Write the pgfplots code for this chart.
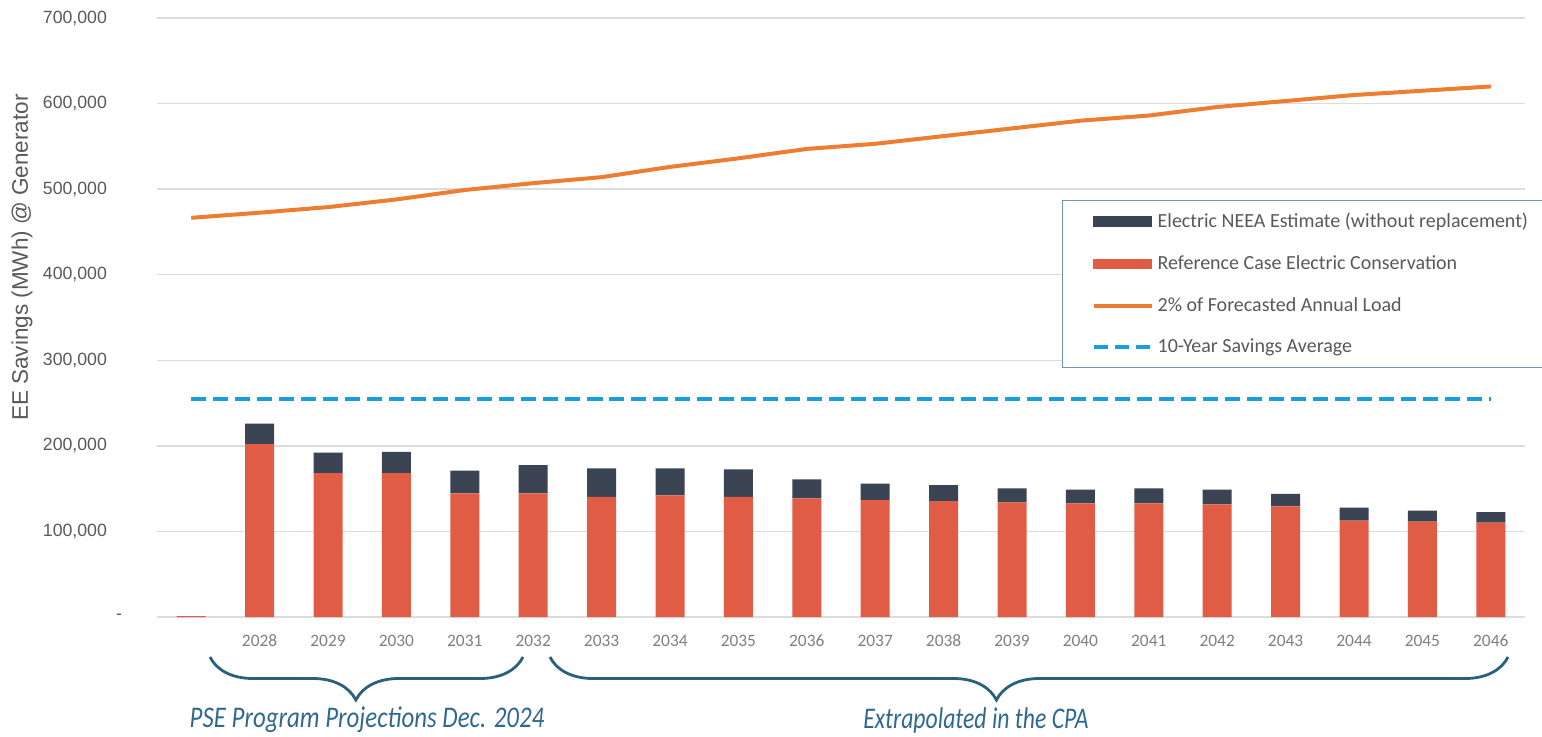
\documentclass[border=0pt]{standalone}
\usepackage{fontspec}
\setmainfont{Carlito}
\newfontfamily\arialf{Liberation Sans}
\usepackage{graphicx}
\usepackage{pgfplots}
\usepackage{pgfplotstable}
\pgfplotsset{compat=1.18}
\usetikzlibrary{decorations.pathreplacing}
\definecolor{darkc}{HTML}{3A4452}
\definecolor{refc}{HTML}{E05C45}
\definecolor{loadc}{HTML}{ED7D31}
\definecolor{avgc}{HTML}{16A0DB}
\definecolor{gridc}{HTML}{DCDCDC}
\definecolor{textc}{HTML}{595959}
\definecolor{yearc}{HTML}{7F7F7F}
\definecolor{bracec}{HTML}{2B5F7E}
\definecolor{notec}{HTML}{2F6890}
\definecolor{legc}{HTML}{7096B2}

\pgfplotstableread{
x ref neea load avg
0 1000 0 466500 255000
1 202000 24000 472500 255000
2 168000 24000 479000 255000
3 168000 25000 488000 255000
4 144500 26500 499000 255000
5 144500 33000 507000 255000
6 140500 33200 514000 255000
7 142000 31700 526000 255000
8 140500 32000 536000 255000
9 138600 22200 547000 255000
10 136700 19300 553000 255000
11 135500 18500 562000 255000
12 134000 16300 571000 255000
13 132800 16200 580000 255000
14 132800 17500 586000 255000
15 131600 17400 596000 255000
16 129300 14700 603000 255000
17 112500 15200 610000 255000
18 111400 12800 615000 255000
19 110200 12500 620000 255000
}\datatable

\begin{document}
\begin{tikzpicture}
\useasboundingbox (0,0) rectangle (771pt,368pt);
\begin{axis}[
  at={(78.5pt,59.5pt)}, anchor=south west,
  scale only axis, width=684pt, height=299.5pt,
  xmin=-0.5, xmax=19.5, ymin=0, ymax=700000,
  ybar stacked, bar width=14.5pt,
  axis line style={draw=none},
  tick style={draw=none},
  ymajorgrids, grid style={line width=0.75pt, color=gridc},
  scaled y ticks=false,
  ytick={0,100000,200000,300000,400000,500000,600000,700000},
  yticklabels={{-\hspace*{-7.5pt}},{100,000},{200,000},{300,000},{400,000},{500,000},{600,000},{700,000}},
  yticklabel style={font=\arialf\fontsize{8.85}{10}\selectfont, text=textc, anchor=east, xshift=-21.5pt},
  xtick={1,...,19},
  xticklabels={2028,2029,2030,2031,2032,2033,2034,2035,2036,2037,2038,2039,2040,2041,2042,2043,2044,2045,2046},
  xticklabel style={font=\fontsize{8.7}{10}\selectfont, text=yearc, anchor=center, yshift=-12pt},
  ylabel={EE Savings (MWh) @ Generator},
  ylabel style={at={(rel axis cs:-0.0987,0.6)}, anchor=center, font=\arialf\fontsize{11.25}{13}\selectfont, text=textc},
  legend style={at={(rel axis cs:0.6616,0.696)}, anchor=north west, draw=legc, line width=0.6pt,
    font=\fontsize{10}{12}\selectfont, text=textc, inner xsep=14.5pt, inner ysep=4pt, row sep=8.5pt},
  legend cell align=left,
]
\addlegendimage{legend image code/.code={\fill[darkc] (0pt,-2.3pt) rectangle (29pt,2.3pt);}}
\addlegendentry{\makebox[200pt][l]{Electric NEEA Estimate (without replacement)}}
\addlegendimage{legend image code/.code={\fill[refc] (0pt,-2.3pt) rectangle (29pt,2.3pt);}}
\addlegendentry{\makebox[200pt][l]{Reference Case Electric Conservation}}
\addlegendimage{legend image code/.code={\draw[loadc, line width=2pt] (0pt,0pt) -- (29pt,0pt);}}
\addlegendentry{\makebox[200pt][l]{2\% of Forecasted Annual Load}}
\addlegendimage{legend image code/.code={\draw[avgc, line width=2pt, dash pattern=on 7pt off 3.5pt] (0pt,0pt) -- (29pt,0pt);}}
\addlegendentry{\makebox[200pt][l]{10-Year Savings Average}}

\addplot[forget plot, fill=refc, draw=none] table[x=x, y=ref] {\datatable};
\addplot[forget plot, fill=darkc, draw=none] table[x=x, y=neea] {\datatable};
\addplot[forget plot, stack plots=false, sharp plot, no markers, draw=loadc, line width=2pt] table[x=x, y=load] {\datatable};
\addplot[forget plot, stack plots=false, sharp plot, no markers, draw=avgc, line width=2pt, dash pattern=on 7.5pt off 3.5pt] table[x=x, y=avg] {\datatable};
\end{axis}
\draw[bracec, line width=1.4pt, decorate, decoration={brace, mirror, amplitude=21.5pt, aspect=0.466}] (105pt,39.5pt) -- (261.5pt,39.5pt);
\draw[bracec, line width=1.4pt, decorate, decoration={brace, mirror, amplitude=21.5pt, aspect=0.466}] (275pt,39.5pt) -- (754pt,39.5pt);
\node[text=notec, font=\itshape\fontsize{15}{17}\selectfont, inner sep=0pt] at (183.5pt,8pt) {\scalebox{0.83}[1]{PSE Program Projections Dec. 2024}};
\node[text=notec, font=\itshape\fontsize{15}{17}\selectfont, inner sep=0pt] at (488pt,8pt) {\scalebox{0.79}[1]{Extrapolated in the CPA}};
\end{tikzpicture}
\end{document}
